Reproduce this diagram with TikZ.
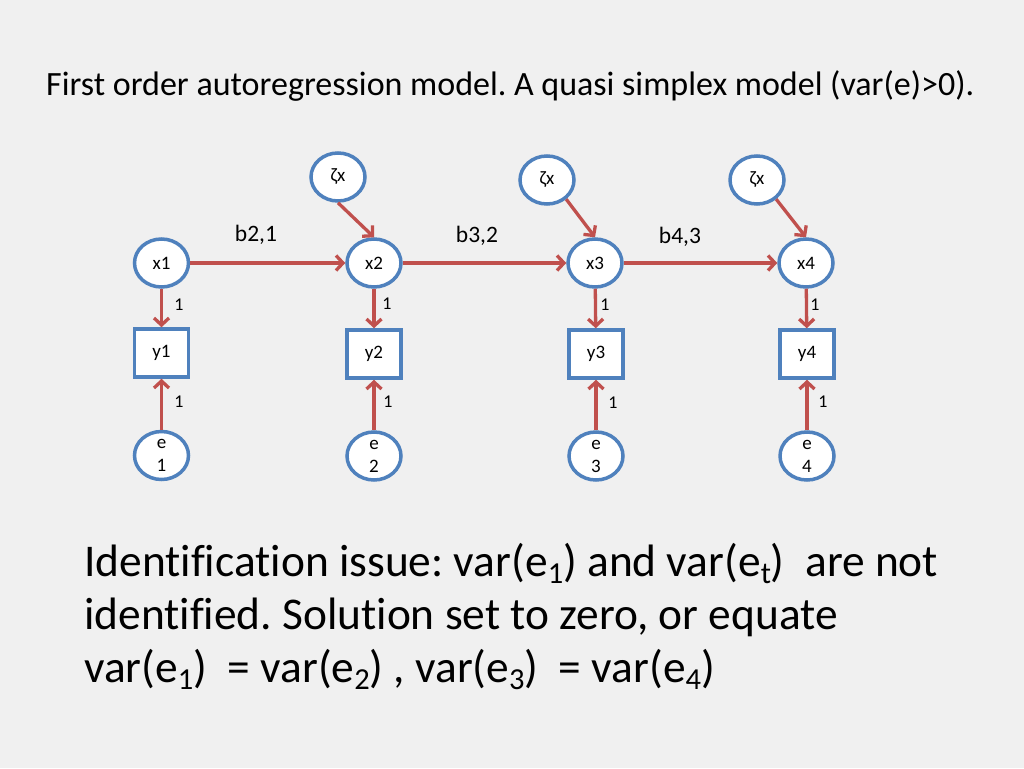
\documentclass[tikz,border=0pt]{standalone}
\usepackage{fontspec}
\setmainfont{Carlito}[Ligatures=NoCommon]
\usetikzlibrary{arrows.meta,shapes.geometric}
\definecolor{bg}{HTML}{F0F0F0}
\definecolor{nodeblue}{HTML}{4F81BD}
\definecolor{arrred}{HTML}{C0504D}
\newcommand{\sbs}[1]{\raisebox{-7pt}{\fontsize{30.5}{31}\selectfont #1}}
\frenchspacing
\begin{document}
\begin{tikzpicture}[x=1pt,y=-1pt,
  latent/.style={ellipse, draw=nodeblue, line width=3.5pt, fill=white,
    minimum width=54pt, minimum height=48pt, inner sep=0pt,
    font=\fontsize{19}{23}\selectfont, align=center},
  obs/.style={rectangle, draw=nodeblue, line width=3.5pt, fill=white,
    minimum width=54pt, minimum height=48pt, inner sep=0pt,
    font=\fontsize{19}{23}\selectfont},
  arr/.style={draw=arrred, line width=3.3pt, -{Straight Barb[length=7pt,width=15pt]}},
  lbl/.style={font=\fontsize{18}{20}\selectfont, inner sep=0pt},
  blbl/.style={font=\fontsize{23.5}{26}\selectfont, inner sep=0pt},
  title/.style={font=\fontsize{34}{40}\selectfont, inner sep=0pt, anchor=base west},
  body/.style={font=\fontsize{45.4}{54}\selectfont, inner sep=0pt, anchor=base west}]
\useasboundingbox (0,0) rectangle (1024,768);
\fill[bg] (0,0) rectangle (1024,768);

\node[title] (t) at (46,95) {First order autoregression model. A quasi simplex model (var(e)>0).};

% latent x
\node[latent] (x1) at (161.5,263) {x1};
\node[latent] (x2) at (374,263) {x2};
\node[latent] (x3) at (595,263) {x3};
\node[latent] (x4) at (806,263) {x4};
% zeta
\node[latent] (z2) at (338,177) {ζx};
\node[latent] (z3) at (547,180) {ζx};
\node[latent] (z4) at (757,180) {ζx};
% observed
\node[obs] (y1) at (161.5,353) {y1};
\node[obs] (y2) at (374,354) {y2};
\node[obs] (y3) at (596,354) {y3};
\node[obs] (y4) at (807,354) {y4};
% errors
\node[latent] (e1) at (161.5,455.5) {e\\1};
\node[latent] (e2) at (374,456) {e\\2};
\node[latent] (e3) at (596,456) {e\\3};
\node[latent] (e4) at (807,456) {e\\4};

% arrows
\draw[arr] (x1) -- (x2);
\draw[arr] (x2) -- (x3);
\draw[arr] (x3) -- (x4);
\draw[arr] (z2.south) -- (x2.north);
\draw[arr] (z3.-45) -- (x3.north);
\draw[arr] (z4.-45) -- (x4.north);
\foreach \i in {1,2,3,4}{
  \draw[arr] (x\i) -- (y\i);
  \draw[arr] (e\i) -- (y\i);
}

% labels
\node[blbl] (b21) at (256,235) {b2,1};
\node[blbl] (b32) at (477,236) {b3,2};
\node[blbl] (b43) at (680,237) {b4,3};
\node[lbl] (l1a) at (179,305) {1};
\node[lbl] (l1b) at (179,402) {1};
\node[lbl] (l2a) at (387,304) {1};
\node[lbl] (l2b) at (388,402) {1};
\node[lbl] (l3a) at (605,305) {1};
\node[lbl] (l3b) at (613,403) {1};
\node[lbl] (l4a) at (815,305) {1};
\node[lbl] (l4b) at (823,402) {1};

% bottom text
\node[body] (p1) at (84,576) {Identification issue: var(e\sbs{1}) and var(e\sbs{t})~ are not};
\node[body] (p2) at (84,629) {identified. Solution set to zero, or equate};
\node[body] (p3) at (84,682) {var(e\sbs{1})~ = var(e\sbs{2}) , var(e\sbs{3})~ = var(e\sbs{4})};
\end{tikzpicture}
\end{document}
